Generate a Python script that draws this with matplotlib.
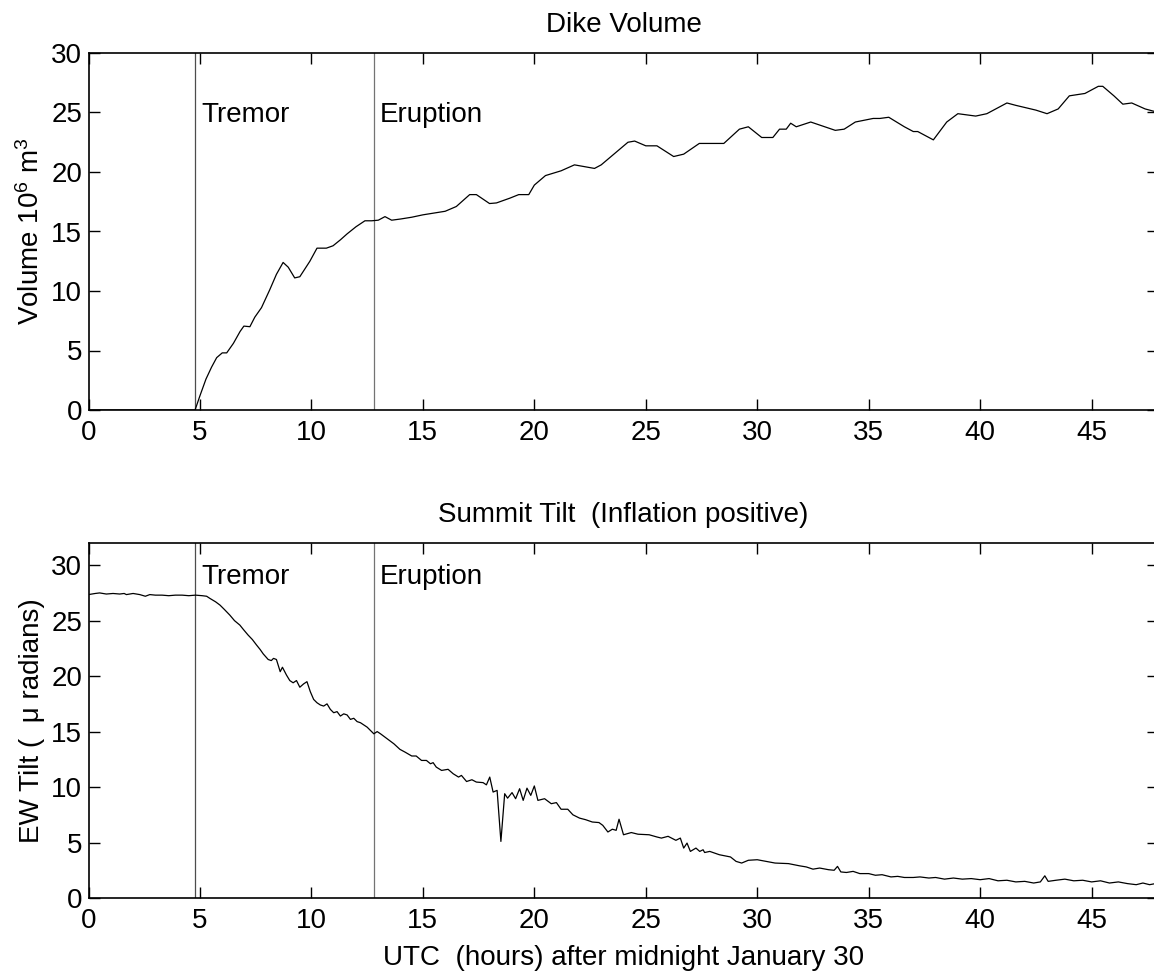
import matplotlib
matplotlib.use("Agg")
import matplotlib.pyplot as plt

plt.rcParams["font.family"] = ["Liberation Sans", "DejaVu Sans"]
plt.rcParams["mathtext.fontset"] = "custom"
plt.rcParams["mathtext.rm"] = "Liberation Sans"
plt.rcParams["mathtext.it"] = "Liberation Sans"

# event times (hours after midnight Jan 30)
t_tremor = 4.78
t_eruption = 12.8

# dike volume, 10^6 m^3
vol_t = [0, 4.78, 5.0, 5.27, 5.52, 5.75, 6.0, 6.2, 6.5, 6.8, 6.97, 7.24, 7.46, 7.76,
         8.13, 8.43, 8.73, 8.96, 9.25, 9.48, 9.93, 10.25, 10.67, 10.97, 11.3, 11.6,
         12.0, 12.4, 12.7, 13.0, 13.3, 13.6, 14.0, 14.5, 15.0, 15.5, 16.0, 16.5, 17.1,
         17.4, 17.99, 18.3, 18.9, 19.3, 19.75, 20.0, 20.5, 21.2, 21.8, 22.7, 23.0, 24.2,
         24.5, 25.0, 25.5, 26.25, 26.7, 27.4, 28.5, 29.2, 29.6, 30.2, 30.7, 31.0, 31.3,
         31.5, 31.75, 32.4, 33.5, 33.9, 34.4, 35.2, 35.5, 35.9, 36.6, 37.0, 37.2, 37.9,
         38.5, 39.0, 39.8, 40.3, 41.2, 41.6, 42.5, 43.0, 43.5, 44.0, 44.7, 45.3, 45.5,
         46.0, 46.4, 46.8, 47.4, 48.0]
vol = [0, 0, 1.2, 2.6, 3.6, 4.4, 4.8, 4.8, 5.6, 6.6, 7.05, 7.0, 7.8, 8.6,
       10.1, 11.4, 12.4, 12.0, 11.1, 11.2, 12.5, 13.6, 13.6, 13.8, 14.3, 14.8,
       15.4, 15.9, 15.9, 15.95, 16.25, 15.95, 16.05, 16.2, 16.4, 16.55, 16.7, 17.1, 18.1,
       18.1, 17.35, 17.4, 17.8, 18.1, 18.1, 18.9, 19.7, 20.1, 20.6, 20.3, 20.6, 22.5,
       22.6, 22.2, 22.2, 21.3, 21.5, 22.4, 22.4, 23.6, 23.8, 22.9, 22.9, 23.6, 23.6,
       24.1, 23.8, 24.2, 23.5, 23.6, 24.2, 24.5, 24.5, 24.6, 23.8, 23.4, 23.4, 22.7,
       24.2, 24.9, 24.7, 24.9, 25.8, 25.6, 25.2, 24.9, 25.3, 26.4, 26.6, 27.2, 27.2,
       26.4, 25.7, 25.8, 25.3, 25.0]

# EW summit tilt, micro radians
tilt_t = [0, 0.3, 0.5, 0.8, 1.1, 1.4, 1.6, 1.7, 2.0, 2.3, 2.55, 2.75, 3.0, 3.3, 3.6,
          3.9, 4.2, 4.5, 4.8, 5.1, 5.3, 5.45, 5.7, 5.9, 6.1, 6.34, 6.55, 6.79, 6.95,
          7.16, 7.35, 7.54, 7.7, 7.84, 8.06, 8.2, 8.3, 8.43, 8.6, 8.7, 8.88, 9.03, 9.18,
          9.33, 9.48, 9.65, 9.8, 9.95, 10.1, 10.25, 10.4, 10.55, 10.7, 10.85, 11.0,
          11.15, 11.3, 11.45, 11.6, 11.75, 11.9, 12.05, 12.2, 12.35, 12.5, 12.65, 12.8,
          12.95, 13.1, 13.3, 13.5, 13.7, 13.97, 14.2, 14.5, 14.7, 14.94, 15.16, 15.34,
          15.46, 15.6, 15.84, 16.13, 16.36, 16.6, 16.73, 16.96, 17.2, 17.4, 17.7, 17.85,
          18.0, 18.15, 18.33, 18.5, 18.67, 18.8, 19.0, 19.16, 19.34, 19.5, 19.67, 19.84,
          20.0, 20.16, 20.46, 20.76, 20.99, 21.2, 21.5, 21.73, 22.03, 22.3, 22.6, 22.9,
          23.07, 23.3, 23.5, 23.67, 23.8, 24.0, 24.35, 24.65, 25.15, 25.5, 25.7, 26.0,
          26.35, 26.55, 26.7, 26.85, 27.0, 27.25, 27.42, 27.57, 27.64, 27.87, 28.3, 28.8,
          29.05, 29.3, 29.6, 30.0, 30.4, 30.8, 31.4, 31.9, 32.2, 32.5, 32.8, 33.2, 33.45,
          33.6, 33.75, 34.0, 34.3, 34.6, 35.0, 35.3, 35.6, 36.0, 36.3, 36.6, 37.0, 37.3,
          37.7, 38.0, 38.4, 38.8, 39.2, 39.6, 40.0, 40.4, 40.8, 41.2, 41.6, 42.0, 42.4,
          42.7, 42.9, 43.05, 43.4, 43.8, 44.2, 44.6, 45.0, 45.4, 45.8, 46.2, 46.6, 47.0,
          47.3, 47.6, 48.0]
tilt = [27.35, 27.45, 27.5, 27.4, 27.45, 27.4, 27.45, 27.35, 27.45, 27.35, 27.2, 27.35,
        27.3, 27.3, 27.25, 27.3, 27.3, 27.25, 27.3, 27.25, 27.2, 27.0, 26.7, 26.4, 26.0,
        25.5, 25.0, 24.6, 24.2, 23.7, 23.3, 22.8, 22.4, 22.0, 21.5, 21.4, 21.6, 21.5,
        20.4, 20.8, 20.1, 19.6, 19.4, 19.6, 19.0, 19.3, 19.5, 18.6, 17.9, 17.6, 17.4,
        17.3, 17.5, 17.0, 16.7, 16.8, 16.4, 16.6, 16.5, 16.1, 16.2, 15.9, 15.8, 15.6,
        15.4, 15.1, 14.8, 15.0, 14.8, 14.5, 14.2, 13.9, 13.4, 13.15, 12.8, 12.8, 12.4,
        12.4, 12.1, 12.2, 11.8, 11.5, 11.6, 11.2, 10.9, 11.05, 10.5, 10.66, 10.45, 10.4,
        10.2, 10.9, 9.55, 9.7, 5.1, 9.4, 9.0, 9.5, 8.95, 9.85, 8.8, 9.9, 9.25, 10.1, 8.8,
        8.95, 8.5, 8.6, 8.0, 8.0, 7.5, 7.2, 7.06, 6.85, 6.8, 6.55, 5.95, 6.2, 6.1, 7.1,
        5.7, 5.9, 5.75, 5.7, 5.5, 5.4, 5.56, 5.2, 5.4, 4.5, 4.95, 4.2, 4.5, 4.2, 4.35,
        4.1, 4.2, 3.9, 3.7, 3.3, 3.15, 3.4, 3.45, 3.3, 3.15, 3.1, 2.9, 2.8, 2.6, 2.7,
        2.55, 2.5, 2.85, 2.35, 2.3, 2.4, 2.2, 2.2, 2.05, 2.1, 1.9, 1.95, 1.85, 1.85, 1.9,
        1.8, 1.85, 1.7, 1.8, 1.7, 1.75, 1.65, 1.75, 1.55, 1.6, 1.45, 1.5, 1.35, 1.45,
        2.0, 1.5, 1.6, 1.7, 1.55, 1.6, 1.45, 1.55, 1.35, 1.45, 1.3, 1.2, 1.35, 1.2, 1.35]

W, H = 1154, 974
fig = plt.figure(figsize=(W / 100, H / 100), dpi=100)
ax1 = fig.add_axes([88.5 / W, (H - 410) / H, 1070 / W, 357 / H])
ax2 = fig.add_axes([88.5 / W, (H - 898) / H, 1070 / W, 355 / H])

fs = 20


def style(ax):
    ax.set_xlim(0, 48)
    ax.set_xticks(range(0, 50, 5))
    ax.set_yticks(range(0, 31, 5))
    ax.tick_params(direction="in", top=True, right=True, length=7.7, width=1.0,
                   labelsize=fs)
    ax.tick_params(axis="y", pad=4.5)
    ax.tick_params(axis="x", pad=7)
    for s in ax.spines.values():
        s.set_linewidth(1.2)
    ax.axvline(t_tremor, color="0.3", lw=0.9)
    ax.axvline(t_eruption, color="0.45", lw=0.9)


# top: dike volume
style(ax1)
ax1.set_ylim(0, 30)
ax1.plot(vol_t, vol, color="black", lw=0.9)
ax1.text(t_tremor + 0.27, 24.8, "Tremor", fontsize=fs, va="center", ha="left")
ax1.text(t_eruption + 0.27, 24.8, "Eruption", fontsize=fs, va="center", ha="left")
ax1.set_title("Dike Volume", fontsize=fs, pad=15)
ax1.set_ylabel("Volume 10$^6$ m$^3$", fontsize=fs)
ax1.yaxis.set_label_coords(-0.041, 0.5)

# bottom: summit tilt
style(ax2)
ax2.set_ylim(0, 32)
ax2.plot(tilt_t, tilt, color="black", lw=0.9)
ax2.text(t_tremor + 0.27, 28.9, "Tremor", fontsize=fs, va="center", ha="left")
ax2.text(t_eruption + 0.27, 28.9, "Eruption", fontsize=fs, va="center", ha="left")
ax2.set_title("Summit Tilt  (Inflation positive)", fontsize=fs, pad=15)
ax2.set_ylabel("EW Tilt (  \u03bc radians)", fontsize=fs)
ax2.yaxis.set_label_coords(-0.041, 0.5)
ax2.set_xlabel("UTC  (hours) after midnight January 30", fontsize=fs, labelpad=8)

fig.savefig("out.png", dpi=100, facecolor="white")
